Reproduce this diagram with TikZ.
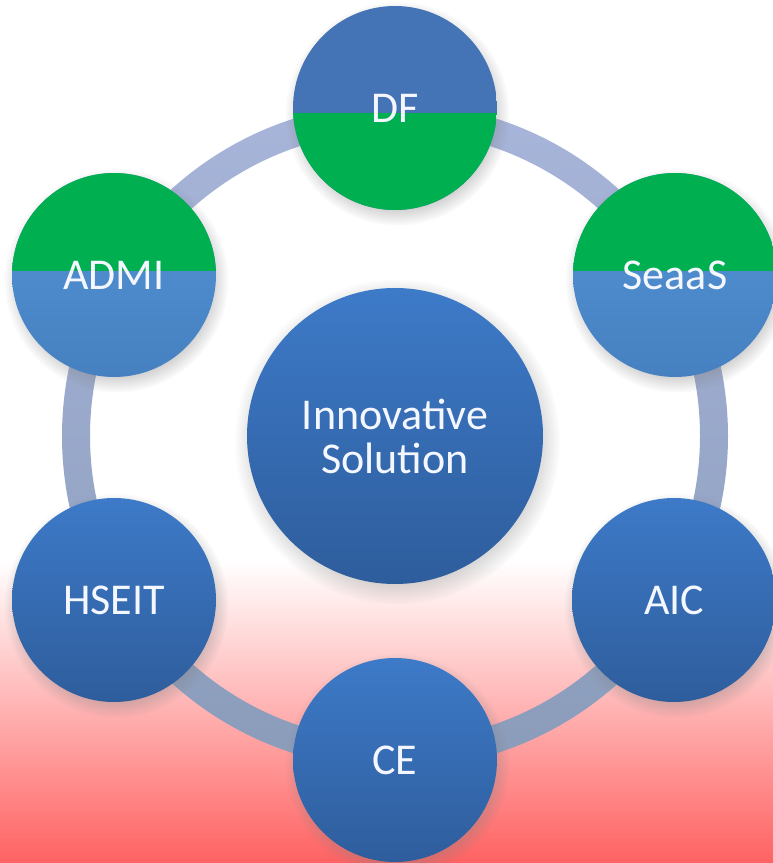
\documentclass[tikz,border=0pt]{standalone}
\usepackage{fontspec}
\setmainfont{Carlito}
\usetikzlibrary{shadows}
\definecolor{bluetop}{HTML}{3D7AC8}
\definecolor{bluebot}{HTML}{2E5D9C}
\definecolor{dfblue}{HTML}{4574B6}
\definecolor{okgreen}{HTML}{00B050}
\definecolor{ltbluetop}{HTML}{5496D8}
\definecolor{ltbluebot}{HTML}{4680C0}
\definecolor{ringtop}{HTML}{A8B5DA}
\definecolor{ringbot}{HTML}{8A9CBA}
\definecolor{bgred}{HTML}{FF6262}
\definecolor{labelwhite}{HTML}{F4F7FF}
\tikzset{
  bubble/.style={circle, minimum size=204pt, inner sep=0pt,
    text=labelwhite, font=\fontsize{44}{48}\selectfont,
    circular drop shadow={shadow xshift=2pt, shadow yshift=-5pt, opacity=0.35}},
  plainbubble/.style={bubble, top color=bluetop, bottom color=bluebot},
  greenbottom/.style={bubble, path picture={
      \fill[dfblue] (path picture bounding box.south west) rectangle (path picture bounding box.north east);
      \fill[okgreen] (path picture bounding box.south west) rectangle ([yshift=-5pt]path picture bounding box.east);}},
  greentop/.style={bubble, path picture={
      \shade[top color=ltbluetop, bottom color=ltbluebot] (path picture bounding box.south west) rectangle (path picture bounding box.north east);
      \fill[okgreen] (path picture bounding box.north west) rectangle ([yshift=4pt]path picture bounding box.east);}},
  hub/.style={bubble, minimum size=296pt, top color=bluetop, bottom color=bluebot, align=center}
}
\begin{document}
\begin{tikzpicture}[x=1pt,y=1pt]
\useasboundingbox (0,0) rectangle (773,863);
\clip (0,0) rectangle (773,863);
% background
\fill[white] (0,0) rectangle (773,863);
\shade[top color=white, bottom color=bgred] (0,0) rectangle (773,302);
% ring
\coordinate (rc) at (395,427);
\shade[top color=ringtop, bottom color=ringbot, even odd rule]
  (rc) circle[radius=333pt] (rc) circle[radius=305pt];
% nodes
\node[hub] (hub) at (395,427) {Innovative\\[-4pt]Solution};
\node[greenbottom] (df) at (395,755) {DF};
\node[greentop] (admi) at (114,588) {ADMI};
\node[greentop] (seaas) at (675,588) {SeaaS};
\node[plainbubble] (hseit) at (114,263) {HSEIT};
\node[plainbubble] (aic) at (674,263) {AIC};
\node[plainbubble] (ce) at (395,103) {CE};
\end{tikzpicture}
\end{document}
